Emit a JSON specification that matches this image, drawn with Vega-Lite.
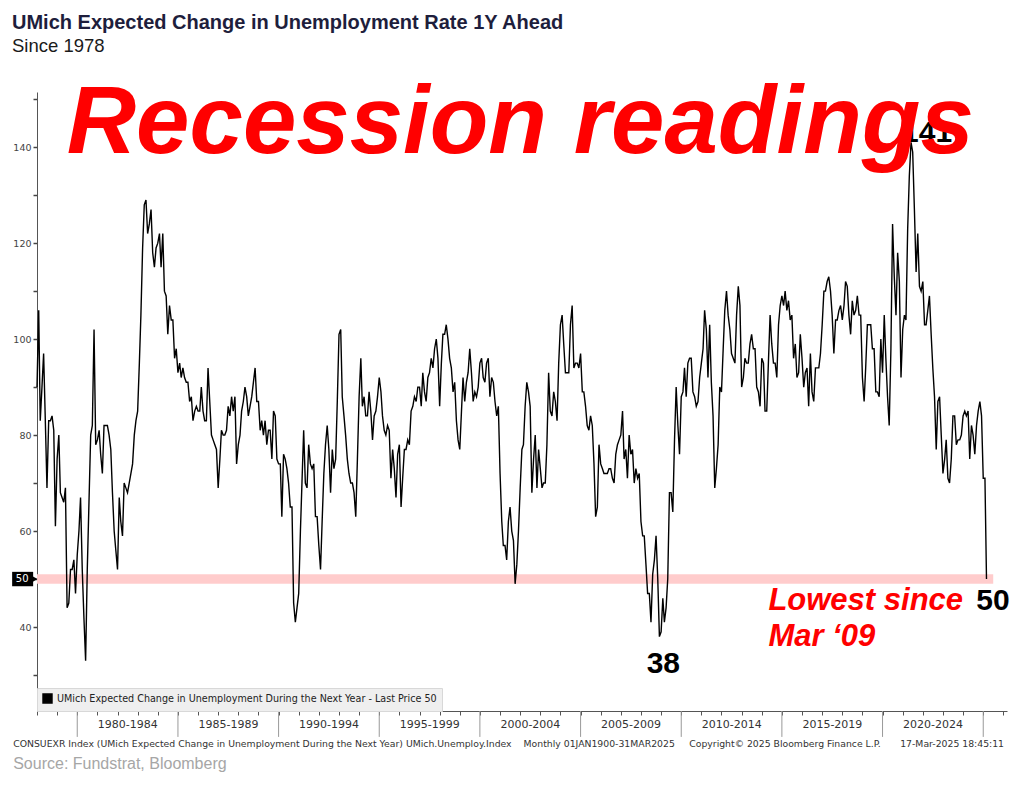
{
"$schema": "https://vega.github.io/schema/vega-lite/v6.json",
"width": 970, "height": 619,
"autosize": {"type": "none"},
"padding": {"left": 37, "top": 92, "right": 17, "bottom": 93},
"background": "white",
"title": {"text": "UMich Expected Change in Unemployment Rate 1Y Ahead", "subtitle": "Since 1978", "anchor": "start", "frame": "group", "dx": -25, "offset": 21, "font": "Liberation Sans", "fontSize": 20, "fontWeight": "bold", "color": "#1e1e3c", "subtitleFont": "Liberation Sans", "subtitleFontSize": 18.5, "subtitleColor": "#1a1a1a", "subtitlePadding": 4},
"config": {"view": {"stroke": null}},
"datasets": {
"series": [
{"d":"1978-01","v":90},{"d":"1978-02","v":106},{"d":"1978-03","v":83},{"d":"1978-04","v":90},{"d":"1978-05","v":97},{"d":"1978-06","v":83},{"d":"1978-07","v":69},{"d":"1978-08","v":83},{"d":"1978-09","v":83},{"d":"1978-10","v":84},{"d":"1978-11","v":81},{"d":"1978-12","v":61},
{"d":"1979-01","v":75},{"d":"1979-02","v":80},{"d":"1979-03","v":68},{"d":"1979-04","v":67},{"d":"1979-05","v":66},{"d":"1979-06","v":69},{"d":"1979-07","v":44},{"d":"1979-08","v":45},{"d":"1979-09","v":52},{"d":"1979-10","v":52},{"d":"1979-11","v":54},{"d":"1979-12","v":47},
{"d":"1980-01","v":55},{"d":"1980-02","v":60},{"d":"1980-03","v":67},{"d":"1980-04","v":52},{"d":"1980-05","v":42},{"d":"1980-06","v":33},{"d":"1980-07","v":52},{"d":"1980-08","v":66},{"d":"1980-09","v":80},{"d":"1980-10","v":82},{"d":"1980-11","v":102},{"d":"1980-12","v":78},
{"d":"1981-01","v":79},{"d":"1981-02","v":81},{"d":"1981-03","v":76},{"d":"1981-04","v":72},{"d":"1981-05","v":82},{"d":"1981-06","v":82},{"d":"1981-07","v":82},{"d":"1981-08","v":80},{"d":"1981-09","v":77},{"d":"1981-10","v":68},{"d":"1981-11","v":60},{"d":"1981-12","v":56},
{"d":"1982-01","v":52},{"d":"1982-02","v":67},{"d":"1982-03","v":62},{"d":"1982-04","v":59},{"d":"1982-05","v":70},{"d":"1982-06","v":69},{"d":"1982-07","v":68},{"d":"1982-08","v":70},{"d":"1982-09","v":72},{"d":"1982-10","v":74},{"d":"1982-11","v":80},{"d":"1982-12","v":83},
{"d":"1983-01","v":85},{"d":"1983-02","v":95},{"d":"1983-03","v":105},{"d":"1983-04","v":119},{"d":"1983-05","v":128},{"d":"1983-06","v":129},{"d":"1983-07","v":122},{"d":"1983-08","v":124},{"d":"1983-09","v":127},{"d":"1983-10","v":118},{"d":"1983-11","v":115},{"d":"1983-12","v":119},
{"d":"1984-01","v":120},{"d":"1984-02","v":122},{"d":"1984-03","v":115},{"d":"1984-04","v":122},{"d":"1984-05","v":110},{"d":"1984-06","v":109},{"d":"1984-07","v":101},{"d":"1984-08","v":107},{"d":"1984-09","v":104},{"d":"1984-10","v":104},{"d":"1984-11","v":96},{"d":"1984-12","v":98},
{"d":"1985-01","v":93},{"d":"1985-02","v":95},{"d":"1985-03","v":92},{"d":"1985-04","v":94},{"d":"1985-05","v":92},{"d":"1985-06","v":91},{"d":"1985-07","v":91},{"d":"1985-08","v":87},{"d":"1985-09","v":88},{"d":"1985-10","v":83},{"d":"1985-11","v":85},{"d":"1985-12","v":86},
{"d":"1986-01","v":85},{"d":"1986-02","v":85},{"d":"1986-03","v":90},{"d":"1986-04","v":85},{"d":"1986-05","v":83},{"d":"1986-06","v":83},{"d":"1986-07","v":94},{"d":"1986-08","v":87},{"d":"1986-09","v":80},{"d":"1986-10","v":79},{"d":"1986-11","v":78},{"d":"1986-12","v":77},
{"d":"1987-01","v":69},{"d":"1987-02","v":75},{"d":"1987-03","v":81},{"d":"1987-04","v":80},{"d":"1987-05","v":80},{"d":"1987-06","v":81},{"d":"1987-07","v":86},{"d":"1987-08","v":84},{"d":"1987-09","v":88},{"d":"1987-10","v":85},{"d":"1987-11","v":88},{"d":"1987-12","v":74},
{"d":"1988-01","v":78},{"d":"1988-02","v":80},{"d":"1988-03","v":85},{"d":"1988-04","v":87},{"d":"1988-05","v":90},{"d":"1988-06","v":88},{"d":"1988-07","v":84},{"d":"1988-08","v":86},{"d":"1988-09","v":88},{"d":"1988-10","v":91},{"d":"1988-11","v":94},{"d":"1988-12","v":87},
{"d":"1989-01","v":87},{"d":"1989-02","v":81},{"d":"1989-03","v":83},{"d":"1989-04","v":80},{"d":"1989-05","v":83},{"d":"1989-06","v":78},{"d":"1989-07","v":81},{"d":"1989-08","v":81},{"d":"1989-09","v":75},{"d":"1989-10","v":85},{"d":"1989-11","v":84},{"d":"1989-12","v":75},
{"d":"1990-01","v":74},{"d":"1990-02","v":74},{"d":"1990-03","v":63},{"d":"1990-04","v":76},{"d":"1990-05","v":75},{"d":"1990-06","v":73},{"d":"1990-07","v":70},{"d":"1990-08","v":65},{"d":"1990-09","v":65},{"d":"1990-10","v":45},{"d":"1990-11","v":41},{"d":"1990-12","v":44},
{"d":"1991-01","v":47},{"d":"1991-02","v":60},{"d":"1991-03","v":70},{"d":"1991-04","v":81},{"d":"1991-05","v":70},{"d":"1991-06","v":69},{"d":"1991-07","v":78},{"d":"1991-08","v":74},{"d":"1991-09","v":73},{"d":"1991-10","v":74},{"d":"1991-11","v":63},{"d":"1991-12","v":63},
{"d":"1992-01","v":57},{"d":"1992-02","v":52},{"d":"1992-03","v":62},{"d":"1992-04","v":72},{"d":"1992-05","v":78},{"d":"1992-06","v":82},{"d":"1992-07","v":77},{"d":"1992-08","v":68},{"d":"1992-09","v":77},{"d":"1992-10","v":73},{"d":"1992-11","v":75},{"d":"1992-12","v":87},
{"d":"1993-01","v":101},{"d":"1993-02","v":102},{"d":"1993-03","v":88},{"d":"1993-04","v":84},{"d":"1993-05","v":80},{"d":"1993-06","v":75},{"d":"1993-07","v":72},{"d":"1993-08","v":70},{"d":"1993-09","v":70},{"d":"1993-10","v":68},{"d":"1993-11","v":63},{"d":"1993-12","v":75},
{"d":"1994-01","v":88},{"d":"1994-02","v":96},{"d":"1994-03","v":86},{"d":"1994-04","v":88},{"d":"1994-05","v":84},{"d":"1994-06","v":84},{"d":"1994-07","v":89},{"d":"1994-08","v":85},{"d":"1994-09","v":79},{"d":"1994-10","v":84},{"d":"1994-11","v":85},{"d":"1994-12","v":88},
{"d":"1995-01","v":92},{"d":"1995-02","v":89},{"d":"1995-03","v":84},{"d":"1995-04","v":81},{"d":"1995-05","v":80},{"d":"1995-06","v":82},{"d":"1995-07","v":81},{"d":"1995-08","v":71},{"d":"1995-09","v":77},{"d":"1995-10","v":73},{"d":"1995-11","v":67},{"d":"1995-12","v":76},
{"d":"1996-01","v":78},{"d":"1996-02","v":65},{"d":"1996-03","v":71},{"d":"1996-04","v":77},{"d":"1996-05","v":77},{"d":"1996-06","v":79},{"d":"1996-07","v":78},{"d":"1996-08","v":85},{"d":"1996-09","v":86},{"d":"1996-10","v":88},{"d":"1996-11","v":87},{"d":"1996-12","v":90},
{"d":"1997-01","v":90},{"d":"1997-02","v":86},{"d":"1997-03","v":93},{"d":"1997-04","v":89},{"d":"1997-05","v":87},{"d":"1997-06","v":92},{"d":"1997-07","v":93},{"d":"1997-08","v":96},{"d":"1997-09","v":94},{"d":"1997-10","v":98},{"d":"1997-11","v":100},{"d":"1997-12","v":96},
{"d":"1998-01","v":86},{"d":"1998-02","v":95},{"d":"1998-03","v":101},{"d":"1998-04","v":101},{"d":"1998-05","v":103},{"d":"1998-06","v":100},{"d":"1998-07","v":96},{"d":"1998-08","v":94},{"d":"1998-09","v":89},{"d":"1998-10","v":91},{"d":"1998-11","v":83},{"d":"1998-12","v":79},
{"d":"1999-01","v":77},{"d":"1999-02","v":85},{"d":"1999-03","v":92},{"d":"1999-04","v":87},{"d":"1999-05","v":91},{"d":"1999-06","v":93},{"d":"1999-07","v":98},{"d":"1999-08","v":93},{"d":"1999-09","v":87},{"d":"1999-10","v":89},{"d":"1999-11","v":88},{"d":"1999-12","v":90},
{"d":"2000-01","v":95},{"d":"2000-02","v":96},{"d":"2000-03","v":92},{"d":"2000-04","v":91},{"d":"2000-05","v":95},{"d":"2000-06","v":96},{"d":"2000-07","v":88},{"d":"2000-08","v":92},{"d":"2000-09","v":91},{"d":"2000-10","v":87},{"d":"2000-11","v":84},{"d":"2000-12","v":86},
{"d":"2001-01","v":72},{"d":"2001-02","v":62},{"d":"2001-03","v":57},{"d":"2001-04","v":57},{"d":"2001-05","v":54},{"d":"2001-06","v":62},{"d":"2001-07","v":65},{"d":"2001-08","v":60},{"d":"2001-09","v":58},{"d":"2001-10","v":49},{"d":"2001-11","v":53},{"d":"2001-12","v":60},
{"d":"2002-01","v":69},{"d":"2002-02","v":77},{"d":"2002-03","v":78},{"d":"2002-04","v":86},{"d":"2002-05","v":91},{"d":"2002-06","v":89},{"d":"2002-07","v":86},{"d":"2002-08","v":68},{"d":"2002-09","v":75},{"d":"2002-10","v":80},{"d":"2002-11","v":69},{"d":"2002-12","v":77},
{"d":"2003-01","v":73},{"d":"2003-02","v":69},{"d":"2003-03","v":70},{"d":"2003-04","v":70},{"d":"2003-05","v":78},{"d":"2003-06","v":93},{"d":"2003-07","v":85},{"d":"2003-08","v":84},{"d":"2003-09","v":89},{"d":"2003-10","v":87},{"d":"2003-11","v":83},{"d":"2003-12","v":95},
{"d":"2004-01","v":103},{"d":"2004-02","v":105},{"d":"2004-03","v":99},{"d":"2004-04","v":93},{"d":"2004-05","v":93},{"d":"2004-06","v":93},{"d":"2004-07","v":103},{"d":"2004-08","v":107},{"d":"2004-09","v":94},{"d":"2004-10","v":95},{"d":"2004-11","v":95},{"d":"2004-12","v":94},
{"d":"2005-01","v":97},{"d":"2005-02","v":89},{"d":"2005-03","v":89},{"d":"2005-04","v":86},{"d":"2005-05","v":82},{"d":"2005-06","v":81},{"d":"2005-07","v":84},{"d":"2005-08","v":82},{"d":"2005-09","v":74},{"d":"2005-10","v":63},{"d":"2005-11","v":65},{"d":"2005-12","v":78},
{"d":"2006-01","v":74},{"d":"2006-02","v":73},{"d":"2006-03","v":72},{"d":"2006-04","v":72},{"d":"2006-05","v":72},{"d":"2006-06","v":73},{"d":"2006-07","v":73},{"d":"2006-08","v":71},{"d":"2006-09","v":70},{"d":"2006-10","v":76},{"d":"2006-11","v":78},{"d":"2006-12","v":79},
{"d":"2007-01","v":80},{"d":"2007-02","v":85},{"d":"2007-03","v":75},{"d":"2007-04","v":77},{"d":"2007-05","v":71},{"d":"2007-06","v":80},{"d":"2007-07","v":76},{"d":"2007-08","v":77},{"d":"2007-09","v":70},{"d":"2007-10","v":73},{"d":"2007-11","v":71},{"d":"2007-12","v":72},
{"d":"2008-01","v":62},{"d":"2008-02","v":59},{"d":"2008-03","v":59},{"d":"2008-04","v":53},{"d":"2008-05","v":47},{"d":"2008-06","v":47},{"d":"2008-07","v":41},{"d":"2008-08","v":51},{"d":"2008-09","v":54},{"d":"2008-10","v":59},{"d":"2008-11","v":50},{"d":"2008-12","v":38},
{"d":"2009-01","v":39},{"d":"2009-02","v":46},{"d":"2009-03","v":41},{"d":"2009-04","v":44},{"d":"2009-05","v":50},{"d":"2009-06","v":68},{"d":"2009-07","v":68},{"d":"2009-08","v":64},{"d":"2009-09","v":79},{"d":"2009-10","v":90},{"d":"2009-11","v":82},{"d":"2009-12","v":76},
{"d":"2010-01","v":88},{"d":"2010-02","v":89},{"d":"2010-03","v":94},{"d":"2010-04","v":88},{"d":"2010-05","v":95},{"d":"2010-06","v":96},{"d":"2010-07","v":96},{"d":"2010-08","v":89},{"d":"2010-09","v":88},{"d":"2010-10","v":86},{"d":"2010-11","v":87},{"d":"2010-12","v":92},
{"d":"2011-01","v":95},{"d":"2011-02","v":98},{"d":"2011-03","v":106},{"d":"2011-04","v":102},{"d":"2011-05","v":92},{"d":"2011-06","v":103},{"d":"2011-07","v":91},{"d":"2011-08","v":84},{"d":"2011-09","v":69},{"d":"2011-10","v":73},{"d":"2011-11","v":78},{"d":"2011-12","v":90},
{"d":"2012-01","v":89},{"d":"2012-02","v":98},{"d":"2012-03","v":106},{"d":"2012-04","v":110},{"d":"2012-05","v":105},{"d":"2012-06","v":102},{"d":"2012-07","v":97},{"d":"2012-08","v":96},{"d":"2012-09","v":95},{"d":"2012-10","v":105},{"d":"2012-11","v":111},{"d":"2012-12","v":107},
{"d":"2013-01","v":90},{"d":"2013-02","v":92},{"d":"2013-03","v":96},{"d":"2013-04","v":95},{"d":"2013-05","v":95},{"d":"2013-06","v":99},{"d":"2013-07","v":101},{"d":"2013-08","v":98},{"d":"2013-09","v":98},{"d":"2013-10","v":90},{"d":"2013-11","v":89},{"d":"2013-12","v":86},
{"d":"2014-01","v":96},{"d":"2014-02","v":95},{"d":"2014-03","v":85},{"d":"2014-04","v":85},{"d":"2014-05","v":95},{"d":"2014-06","v":105},{"d":"2014-07","v":99},{"d":"2014-08","v":95},{"d":"2014-09","v":95},{"d":"2014-10","v":92},{"d":"2014-11","v":103},{"d":"2014-12","v":107},
{"d":"2015-01","v":109},{"d":"2015-02","v":107},{"d":"2015-03","v":110},{"d":"2015-04","v":106},{"d":"2015-05","v":108},{"d":"2015-06","v":104},{"d":"2015-07","v":105},{"d":"2015-08","v":96},{"d":"2015-09","v":99},{"d":"2015-10","v":92},{"d":"2015-11","v":93},{"d":"2015-12","v":101},
{"d":"2016-01","v":96},{"d":"2016-02","v":90},{"d":"2016-03","v":93},{"d":"2016-04","v":94},{"d":"2016-05","v":86},{"d":"2016-06","v":97},{"d":"2016-07","v":89},{"d":"2016-08","v":87},{"d":"2016-09","v":94},{"d":"2016-10","v":94},{"d":"2016-11","v":94},{"d":"2016-12","v":97},
{"d":"2017-01","v":103},{"d":"2017-02","v":110},{"d":"2017-03","v":110},{"d":"2017-04","v":112},{"d":"2017-05","v":113},{"d":"2017-06","v":110},{"d":"2017-07","v":105},{"d":"2017-08","v":97},{"d":"2017-09","v":104},{"d":"2017-10","v":104},{"d":"2017-11","v":106},{"d":"2017-12","v":107},
{"d":"2018-01","v":104},{"d":"2018-02","v":107},{"d":"2018-03","v":112},{"d":"2018-04","v":111},{"d":"2018-05","v":105},{"d":"2018-06","v":101},{"d":"2018-07","v":108},{"d":"2018-08","v":105},{"d":"2018-09","v":106},{"d":"2018-10","v":109},{"d":"2018-11","v":105},{"d":"2018-12","v":105},
{"d":"2019-01","v":92},{"d":"2019-02","v":87},{"d":"2019-03","v":94},{"d":"2019-04","v":103},{"d":"2019-05","v":103},{"d":"2019-06","v":103},{"d":"2019-07","v":98},{"d":"2019-08","v":98},{"d":"2019-09","v":89},{"d":"2019-10","v":89},{"d":"2019-11","v":88},{"d":"2019-12","v":100},
{"d":"2020-01","v":93},{"d":"2020-02","v":105},{"d":"2020-03","v":96},{"d":"2020-04","v":88},{"d":"2020-05","v":82},{"d":"2020-06","v":98},{"d":"2020-07","v":124},{"d":"2020-08","v":113},{"d":"2020-09","v":105},{"d":"2020-10","v":118},{"d":"2020-11","v":112},{"d":"2020-12","v":92},
{"d":"2021-01","v":102},{"d":"2021-02","v":105},{"d":"2021-03","v":104},{"d":"2021-04","v":123},{"d":"2021-05","v":134},{"d":"2021-06","v":141},{"d":"2021-07","v":139},{"d":"2021-08","v":127},{"d":"2021-09","v":114},{"d":"2021-10","v":122},{"d":"2021-11","v":111},{"d":"2021-12","v":110},
{"d":"2022-01","v":112},{"d":"2022-02","v":103},{"d":"2022-03","v":103},{"d":"2022-04","v":106},{"d":"2022-05","v":109},{"d":"2022-06","v":101},{"d":"2022-07","v":94},{"d":"2022-08","v":88},{"d":"2022-09","v":77},{"d":"2022-10","v":87},{"d":"2022-11","v":88},{"d":"2022-12","v":80},
{"d":"2023-01","v":72},{"d":"2023-02","v":75},{"d":"2023-03","v":79},{"d":"2023-04","v":71},{"d":"2023-05","v":70},{"d":"2023-06","v":75},{"d":"2023-07","v":84},{"d":"2023-08","v":84},{"d":"2023-09","v":78},{"d":"2023-10","v":79},{"d":"2023-11","v":79},{"d":"2023-12","v":80},
{"d":"2024-01","v":84},{"d":"2024-02","v":85},{"d":"2024-03","v":84},{"d":"2024-04","v":85},{"d":"2024-05","v":75},{"d":"2024-06","v":82},{"d":"2024-07","v":80},{"d":"2024-08","v":76},{"d":"2024-09","v":82},{"d":"2024-10","v":85},{"d":"2024-11","v":87},{"d":"2024-12","v":84},
{"d":"2025-01","v":71},{"d":"2025-02","v":71},{"d":"2025-03","v":50}
],
"band": [{"d":"1978-01-01","d2":"2025-07-01","lo":49,"hi":51}],
"seps": [{"d":"1980-01-01","a":22.5,"b":17.1},{"d":"1985-01-01","a":22.5,"b":17.1},{"d":"1990-01-01","a":22.5,"b":17.1},{"d":"1995-01-01","a":22.5,"b":17.1},{"d":"2000-01-01","a":22.5,"b":17.1},{"d":"2005-01-01","a":22.5,"b":17.1},{"d":"2010-01-01","a":22.5,"b":17.1},{"d":"2015-01-01","a":22.5,"b":17.1},{"d":"2020-01-01","a":22.5,"b":17.1},{"d":"2025-01-01","a":22.5,"b":17.1}],
"nums": [{"d":"2022-03-20","v":141.0,"t":"141"},{"d":"2009-02-10","v":30.4,"t":"38"},{"d":"2025-06-25","v":43.5,"t":"50"}],
"big": [{"d":"2002-01-03","v":138.75,"t":"Recession readings"}],
"redsmall": [{"d":"2014-05-01","v":43.5,"t":"Lowest since"},{"d":"2014-05-01","v":36.0,"t":"Mar ‘09"}],
"footer": [{"d":"1976-10-26","v":15.0,"t":"CONSUEXR Index (UMich Expected Change in Unemployment During the Next Year) UMich.Unemploy.Index"},{"d":"2002-03-03","v":15.0,"t":"Monthly 01JAN1900-31MAR2025"},{"d":"2010-05-26","v":15.0,"t":"Copyright© 2025 Bloomberg Finance L.P."},{"d":"2020-11-16","v":15.0,"t":"17-Mar-2025 18:45:11"}],
"source": [{"d":"1976-10-26","v":10.4,"t":"Source: Fundstrat, Bloomberg"}],
"tag": [{"d":"1976-10-07","d2":"1977-10-23","lo":48.5,"hi":51.5}],
"tagtip": [{"d":"1977-11-10","v":50}],
"taglabel": [{"d":"1977-04-07","v":50,"t":"50"}]
},
"layer": [
{"data": {"name": "band"}, "mark": {"type": "rect", "color": "#ffcccc"},
 "encoding": {
  "x": {"field": "d", "type": "temporal", "title": null, "scale": {"domain": [{"year": 1978, "month": 1, "date": 1}, {"year": 2026, "month": 3, "date": 8}]},
        "axis": {"title": null, "tickCount": {"interval": "year", "step": 1}, "tickSize": 4, "tickColor": "#555", "domainColor": "#555", "grid": false,
                 "labelExpr": "year(datum.value) % 5 == 0 && year(datum.value) < 2025 ? year(datum.value) + '-' + (year(datum.value) + 4) : ''",
                 "labelOffset": 50, "labelPadding": 3, "labelFont": "DejaVu Sans", "labelFontSize": 11, "labelColor": "#333", "labelBaseline": "top", "labelAlign": "center", "labelOverlap": false, "labelFlush": false, "labelBound": false}},
  "x2": {"field": "d2"},
  "y": {"field": "lo", "type": "quantitative", "title": null, "scale": {"domain": [22.5, 151.5], "nice": false, "zero": false},
        "axis": {"title": null, "values": [30,40,50,60,70,80,90,100,110,120,130,140,150], "labelExpr": "datum.value % 20 == 0 ? datum.label : ''", "tickSize": 4, "tickWidth": 1.5, "tickColor": "#444", "domainColor": "#555", "grid": false, "labelFont": "DejaVu Sans", "labelFontSize": 9.5, "labelColor": "#444", "labelPadding": 2}},
  "y2": {"field": "hi"}
 }},
{"data": {"name": "seps"}, "mark": {"type": "rule", "color": "#999999", "strokeWidth": 1},
 "encoding": {"x": {"field": "d", "type": "temporal", "title": null}, "y": {"field": "a", "type": "quantitative", "title": null}, "y2": {"field": "b"}}},
{"data": {"name": "series"}, "mark": {"type": "line", "strokeWidth": 1.4},
 "encoding": {
  "x": {"field": "d", "type": "temporal", "title": null},
  "y": {"field": "v", "type": "quantitative", "title": null},
  "color": {"datum": "UMich Expected Change in Unemployment During the Next Year - Last Price 50", "type": "nominal", "scale": {"range": ["#000000"]},
            "legend": {"title": null, "orient": "bottom-left", "offset": 0, "padding": 5, "fillColor": "#efefef", "strokeColor": "#d8d8d8", "symbolType": "square", "symbolSize": 80, "symbolFillColor": "#000000", "symbolStrokeColor": "#000000", "labelFont": "DejaVu Sans", "labelFontSize": 9.6, "labelColor": "#222", "labelLimit": 700,
                       "encode": {"symbols": {"update": {"fill": {"value": "#000000"}, "stroke": {"value": "#000000"}}}}}}
 }},
{"data": {"name": "nums"}, "mark": {"type": "text", "font": "Liberation Sans", "fontWeight": "bold", "fontSize": 30, "color": "#000000", "align": "center", "baseline": "alphabetic"},
 "encoding": {"x": {"field": "d", "type": "temporal", "title": null}, "y": {"field": "v", "type": "quantitative", "title": null}, "text": {"field": "t"}}},
{"data": {"name": "big"}, "mark": {"type": "text", "font": "Liberation Sans", "fontWeight": "bold", "fontStyle": "italic", "fontSize": 96, "color": "#ff0000", "align": "center", "baseline": "alphabetic"},
 "encoding": {"x": {"field": "d", "type": "temporal", "title": null}, "y": {"field": "v", "type": "quantitative", "title": null}, "text": {"field": "t"}}},
{"data": {"name": "redsmall"}, "mark": {"type": "text", "font": "Liberation Sans", "fontWeight": "bold", "fontStyle": "italic", "fontSize": 31, "color": "#ff0000", "align": "left", "baseline": "alphabetic"},
 "encoding": {"x": {"field": "d", "type": "temporal", "title": null}, "y": {"field": "v", "type": "quantitative", "title": null}, "text": {"field": "t"}}},
{"data": {"name": "footer"}, "mark": {"type": "text", "font": "DejaVu Sans", "fontSize": 9.3, "color": "#333333", "align": "left", "baseline": "alphabetic"},
 "encoding": {"x": {"field": "d", "type": "temporal", "title": null}, "y": {"field": "v", "type": "quantitative", "title": null}, "text": {"field": "t"}}},
{"data": {"name": "source"}, "mark": {"type": "text", "font": "Liberation Sans", "fontSize": 16, "color": "#a6a6a6", "align": "left", "baseline": "alphabetic"},
 "encoding": {"x": {"field": "d", "type": "temporal", "title": null}, "y": {"field": "v", "type": "quantitative", "title": null}, "text": {"field": "t"}}},
{"data": {"name": "tag"}, "mark": {"type": "rect", "color": "#000000"},
 "encoding": {"x": {"field": "d", "type": "temporal", "title": null}, "x2": {"field": "d2"}, "y": {"field": "lo", "type": "quantitative", "title": null}, "y2": {"field": "hi"}}},
{"data": {"name": "tagtip"}, "mark": {"type": "point", "shape": "triangle-right", "filled": true, "color": "#000000", "size": 60, "opacity": 1},
 "encoding": {"x": {"field": "d", "type": "temporal", "title": null}, "y": {"field": "v", "type": "quantitative", "title": null}}},
{"data": {"name": "taglabel"}, "mark": {"type": "text", "font": "DejaVu Sans", "fontSize": 10, "color": "#ffffff", "align": "center", "baseline": "middle"},
 "encoding": {"x": {"field": "d", "type": "temporal", "title": null}, "y": {"field": "v", "type": "quantitative", "title": null}, "text": {"field": "t"}}}
]
}
